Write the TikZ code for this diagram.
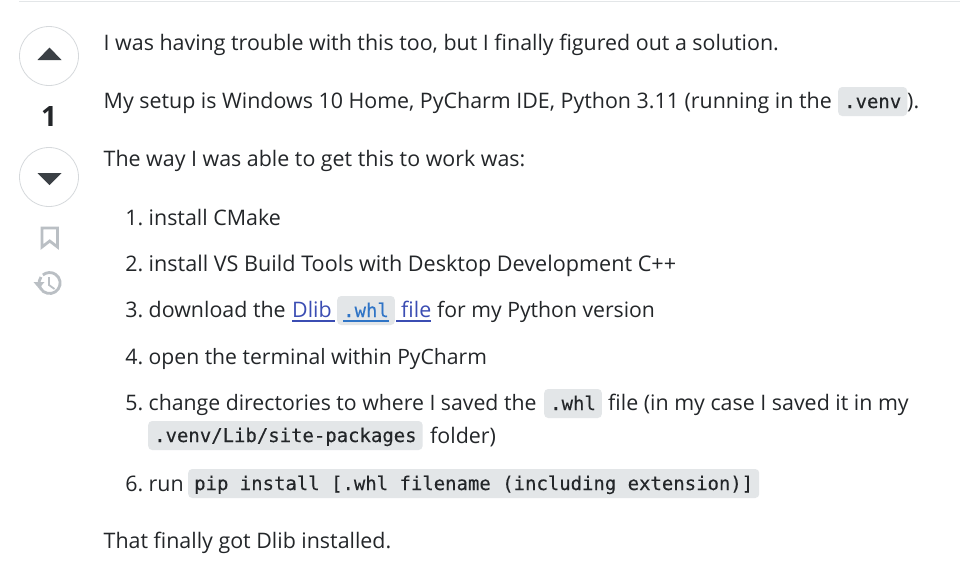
\documentclass[tikz,border=0pt]{standalone}
\usepackage{fontspec}
\setmainfont{Open Sans}
\newfontfamily\codefont[FakeBold=0.25]{DejaVu Sans Mono}
\usepackage{tikz}
\definecolor{inkc}{HTML}{232629}
\definecolor{chipc}{HTML}{E3E6E8}
\definecolor{ringc}{HTML}{D6D9DC}
\definecolor{iconc}{HTML}{3B4045}
\definecolor{paleic}{HTML}{BABFC4}
\definecolor{linkc}{HTML}{3B4DB3}
\definecolor{codelinkc}{HTML}{2F74C6}
\tikzset{
  tsize/.style={font=\fontsize{#1}{24}\selectfont},
  txt/.style={anchor=base west, inner sep=0pt, text=inkc, tsize=21.4},
  num/.style={anchor=base east, inner sep=0pt, text=inkc, tsize=21.4},
  chip/.style={anchor=base west, fill=chipc, rounded corners=4pt, text=inkc, inner xsep=6pt, inner ysep=0pt,
    text height=21pt, text depth=8pt, font=\codefont\fontsize{18.95}{22}\selectfont},
  ring/.style={draw=ringc, line width=0.8pt, circle, minimum size=59pt, inner sep=0pt},
  link/.style={draw=linkc, line width=1.2pt}
}
\begin{document}
\begin{tikzpicture}[x=1pt, y=-1pt]
  \useasboundingbox (0,0) rectangle (960,574);
  \fill[white] (0,0) rectangle (960,574);
  \coordinate (ruleL) at (19,1);
  \coordinate (ruleR) at (960,1);
  \draw[chipc, line width=1pt] (ruleL) -- (ruleR);

  % vote column
  \node[ring] (up) at (49,56) {};
  \node[ring] (down) at (49,177) {};
  \fill[iconc] (49.5,47.5) -- (61.5,60) -- (37.5,60) -- cycle;
  \fill[iconc] (49.5,185) -- (61.5,173) -- (37.5,173) -- cycle;
  \node[inner sep=0pt, text=inkc, font=\bfseries\fontsize{28}{30}\selectfont] (score) at (49,116) {1};
  \draw[paleic, line width=2.8pt, line join=miter] (42,228) -- (57.5,228) -- (57.5,247) -- (49.7,241) -- (42,247) -- cycle;
  \draw[paleic, line width=2.8pt] (41,277) arc (215:-130:10.5);
  \fill[paleic] (33.5,282) -- (44.5,282) -- (39,288.5) -- cycle;
  \draw[paleic, line width=1.8pt] (49,277) -- (49,285) -- (54.5,289);

  % answer text
  \node[txt] (l1) at (103.5,50) {I was having trouble with this too, but I finally figured out a solution.};
  \node[txt] (l2) at (103.5,108) {My setup is Windows 10 Home, PyCharm IDE, Python 3.11 (running in the};
  \node[chip] (c2) at (838,108) {.venv};
  \node[txt] (l2b) at (907,108) {).};
  \node[txt] (l3) at (103.5,166) {The way I was able to get this to work was:};

  \node[num] (n1) at (143.5,225) {1.};
  \node[txt] (i1) at (148.5,225) {install CMake};
  \node[num] (n2) at (143.5,271) {2.};
  \node[txt, tsize=21.6] (i2) at (148.5,271) {install VS Build Tools with Desktop Development C++};
  \node[num] (n3) at (143.5,317) {3.};
  \node[txt] (i3a) at (148.5,317) {download the};
  \node[txt, text=linkc] (i3b) at (292,317) {Dlib};
  \node[chip, text=codelinkc] (c3) at (337,317) {.whl};
  \node[txt, text=linkc] (i3c) at (401,317) {file};
  \node[txt, tsize=21.2] (i3d) at (437,317) {for my Python version};
  \draw[link] (292,321) -- (335,321);
  \draw[link, codelinkc] (343,321) -- (389,321);
  \draw[link] (396,321) -- (431,321);
  \node[num] (n4) at (143.5,364) {4.};
  \node[txt, tsize=21.15] (i4) at (148.5,364) {open the terminal within PyCharm};
  \node[num] (n5) at (143.5,410) {5.};
  \node[txt, tsize=21.25] (i5a) at (148.5,410) {change directories to where I saved the};
  \node[chip] (c5) at (544,410) {.whl};
  \node[txt] (i5b) at (608,410) {file (in my case I saved it in my};
  \node[chip] (c5b) at (148,442) {.venv/Lib/site-packages};
  \node[txt] (i5c) at (430,443) {folder)};
  \node[num] (n6) at (143.5,491) {6.};
  \node[txt] (i6a) at (148.5,491) {run};
  \node[chip] (c6) at (188,490) {pip install [.whl filename (including extension)]};
  \node[txt] (l9) at (103.5,548) {That finally got Dlib installed.};
\end{tikzpicture}
\end{document}
